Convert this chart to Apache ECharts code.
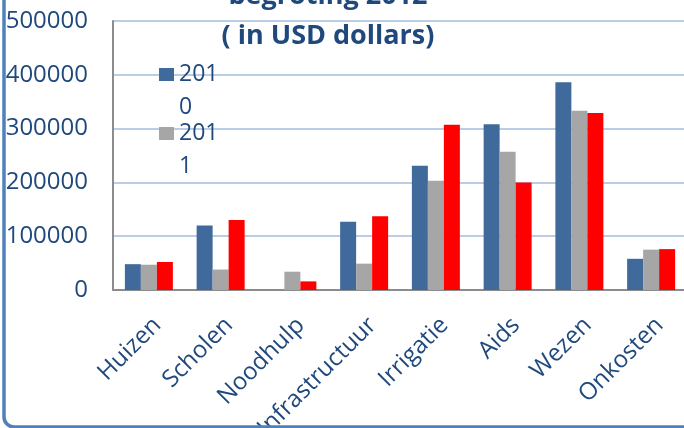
<!DOCTYPE html>
<html>
<head>
<meta charset="utf-8">
<script src="https://cdn.jsdelivr.net/npm/echarts@6/dist/echarts.min.js"></script>
<style>
  html, body { margin: 0; padding: 0; background: #fff; }
  #main { width: 684px; height: 428px; }
</style>
</head>
<body>
<div id="main"></div>
<script>
const categories = ["Huizen", "Scholen", "Noodhulp", "Infrastructuur", "Irrigatie", "Aids", "Wezen", "Onkosten"];
const values2010 = [48000, 120000, 0, 127000, 231000, 308000, 386000, 58000];
const values2011 = [47000, 38000, 34000, 49000, 203000, 257000, 333000, 75000];
const values2012 = [52000, 130000, 16000, 137000, 307000, 200000, 329000, 76000];
const yTicks = [0, 100000, 200000, 300000, 400000, 500000];

const chartDom = document.getElementById("main");
const myChart = echarts.init(chartDom);

const textBlue = "#1f497d";
const font = "Open Sans";

// legend "2010" is wrapped as "201" / "0" like in the picture,
// an empty first line keeps "201" level with the square
const legendFor = (name, top) => ({
  data: [name],
  orient: "vertical",
  left: 159,
  top: top,
  padding: 0,
  icon: "rect",
  itemWidth: 15,
  itemHeight: 13,
  selectedMode: false,
  formatter: (n) => "\u00a0\n" + n.slice(0, 3) + "\n" + n.slice(3),
  textStyle: {
    color: textBlue,
    fontFamily: font,
    fontSize: 23,
    lineHeight: 33,
  },
});

const option = {
  animation: false,
  title: {
    text: "begroting 2012\n( in USD dollars)",
    left: 328,
    top: -24,
    textAlign: "center",
    padding: 0,
    textStyle: {
      color: textBlue,
      fontFamily: font,
      fontWeight: "bold",
      fontSize: 27,
      lineHeight: 40,
    },
  },
  legend: [legendFor("2010", 25), legendFor("2011", 84)],
  grid: {
    left: 113,
    top: 21,
    width: 574,
    bottom: 138,
    outerBoundsMode: "none",
  },
  xAxis: {
    type: "category",
    data: categories,
    axisLine: { lineStyle: { color: "#8c8c8c", width: 2 } },
    axisTick: { show: false },
    axisLabel: {
      rotate: 45,
      interval: 0,
      margin: 23,
      align: "right",
      verticalAlign: "top",
      color: textBlue,
      fontFamily: font,
      fontSize: 24,
    },
  },
  yAxis: {
    type: "value",
    min: yTicks[0],
    max: yTicks[yTicks.length - 1],
    interval: yTicks[1] - yTicks[0],
    axisLine: { show: true, lineStyle: { color: "#8c8c8c", width: 2 } },
    axisTick: { show: false },
    splitLine: { lineStyle: { color: "#b9cde5", width: 2 } },
    axisLabel: {
      margin: 25,
      color: textBlue,
      fontFamily: font,
      fontSize: 24,
      formatter: (v) => String(v),
    },
  },
  series: [
    {
      name: "2010",
      type: "bar",
      data: values2010,
      barWidth: 16,
      barGap: "0%",
      itemStyle: { color: "#40699c" },
    },
    {
      name: "2011",
      type: "bar",
      data: values2011,
      barWidth: 16,
      barGap: "0%",
      itemStyle: { color: "#a6a6a6" },
    },
    {
      name: "2012",
      type: "bar",
      data: values2012,
      barWidth: 16,
      barGap: "0%",
      itemStyle: { color: "#ff0000" },
    },
  ],
  graphic: [
    {
      // outer chart frame, only left and bottom edges are in view
      type: "rect",
      shape: { x: 4, y: -100, width: 900, height: 527, r: 10 },
      style: { fill: "none", stroke: "#4f81bd", lineWidth: 3.5 },
      silent: true,
      z: 100,
    },
  ],
};

option && myChart.setOption(option);
</script>
</body>
</html>
